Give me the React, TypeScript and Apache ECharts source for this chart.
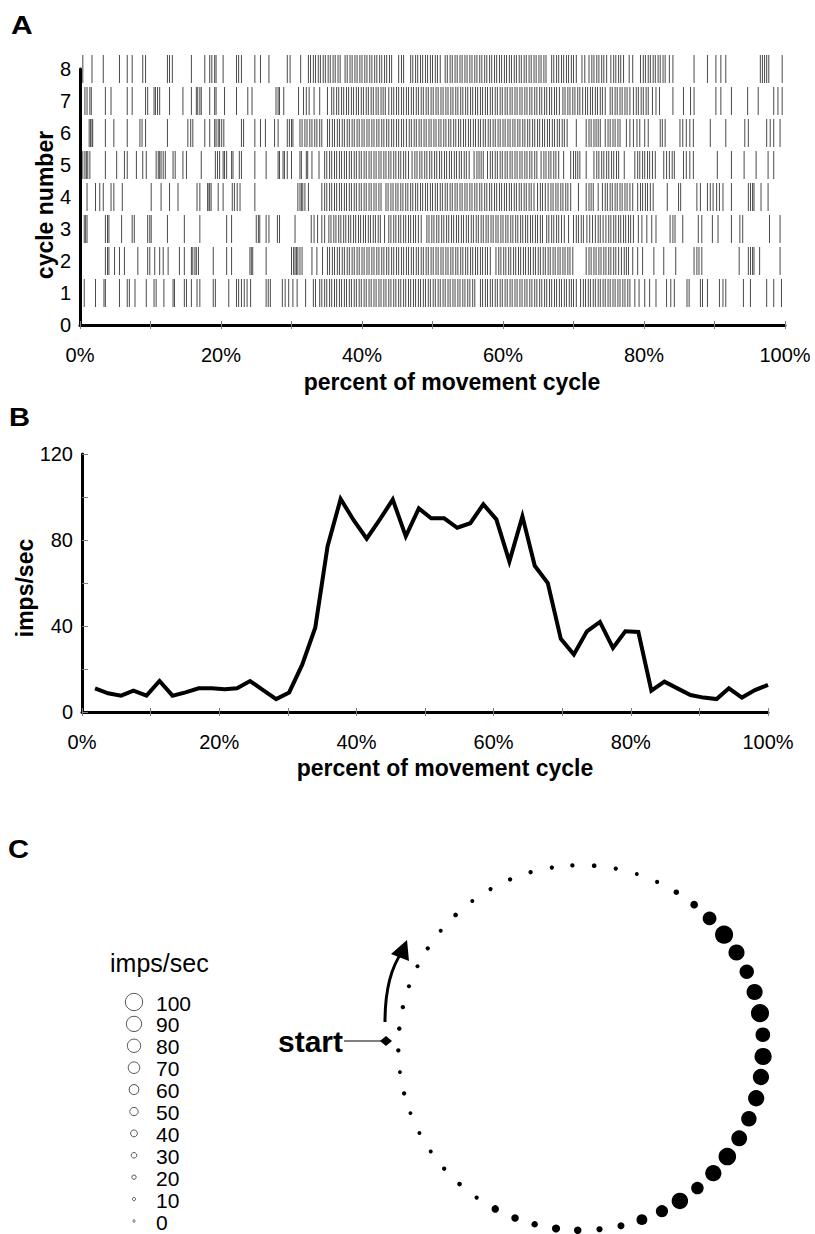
import { useEffect, useRef } from "react";
import * as echarts from "echarts";

// Phase of each firing-rate bin (percent of movement cycle)
const phase = [
  1.9, 3.8, 5.7, 7.5, 9.4, 11.3, 13.2, 15.1, 17.0, 18.9, 20.8, 22.6, 24.5, 26.4, 28.3, 30.2, 32.1, 34.0,
  35.8, 37.7, 39.6, 41.5, 43.4, 45.3, 47.2, 49.1, 50.9, 52.8, 54.7, 56.6, 58.5, 60.4, 62.3, 64.2, 66.0,
  67.9, 69.8, 71.7, 73.6, 75.5, 77.4, 79.2, 81.1, 83.0, 84.9, 86.8, 88.7, 90.6, 92.5, 94.3, 96.2, 98.1, 100.0,
];

// Mean firing rate in each bin (imps/sec)
const rate = [
  11.0, 8.7, 7.6, 9.9, 7.6, 14.4, 7.6, 9.1, 11.0, 11.0, 10.6, 11.0, 14.4, 10.2, 6.0, 9.1, 22.0, 39.2,
  77.1, 99.1, 89.2, 80.6, 89.5, 98.8, 81.7, 94.7, 90.1, 90.1, 85.7, 87.8, 96.6, 89.6, 70.0, 91.0, 68.0,
  60.0, 34.0, 26.7, 37.5, 41.9, 29.8, 37.5, 37.2, 9.9, 14.1, 11.0, 7.9, 6.7, 6.0, 11.0, 6.7, 10.2, 12.6,
];

// Spike times (percent of cycle) for each of the eight cycles
const cycle1 = [
  0.6, 2.2, 3.4, 3.6, 5.6, 6.7, 7.0, 7.8, 9.4, 10.5, 10.8, 11.9, 13.2, 13.4, 14.8, 15.1, 15.8, 16.6, 17.0,
  18.9, 19.2, 21.1, 22.2, 22.5, 22.9, 23.3, 23.7, 24.2, 26.4, 26.7, 27.0, 28.7, 29.1, 29.6, 30.2, 30.8,
  32.0, 33.1, 33.4,
  34.0, 34.3, 34.7, 35.0, 35.4, 35.7, 36.1, 36.4, 36.8, 37.1, 37.5, 37.8, 38.2, 38.5, 38.9, 39.2, 39.6,
  39.9, 40.3, 40.6, 41.0, 41.3, 41.7, 42.0, 42.4, 42.7, 43.1, 43.4, 43.8, 44.1, 44.5, 44.8, 45.2, 45.5,
  45.9, 46.2, 46.6, 46.9, 47.3, 47.6, 48.0, 48.3, 48.7, 49.0, 49.4, 49.7, 50.1, 50.4, 50.8, 51.1, 51.5,
  51.8, 52.2, 52.5, 52.9, 53.2, 53.6, 53.9, 54.3, 54.6, 55.0, 55.3, 55.7, 56.0,
  56.8, 57.1, 57.5, 57.8, 58.2, 58.5, 58.9, 59.2, 59.6, 59.9, 60.3, 60.6, 61.0, 61.3, 61.7, 62.0, 62.4,
  62.7, 63.1, 63.4, 63.8, 64.1, 64.5, 64.8, 65.2, 65.5, 65.9, 66.2, 66.6, 66.9, 67.3, 67.6, 68.0, 68.3,
  68.7, 69.0, 69.4, 69.7, 70.0, 70.4,
  71.0, 71.4, 71.7, 72.1, 72.4, 72.8, 73.1, 73.5, 73.8, 74.2, 74.5, 74.9, 75.2, 75.6, 75.9, 76.3, 76.6,
  77.0, 77.3, 77.7, 78.0,
  78.7, 79.3, 80.1, 80.8, 81.7, 83.2, 83.8, 84.3, 86.1, 86.4, 88.0, 88.3, 89.0, 90.7, 91.2, 91.6, 94.1,
  95.1, 97.4, 98.4, 99.5,
];
const cycle2 = [
  3.6, 3.9, 4.1, 4.9, 5.6, 6.3, 8.2, 9.6, 9.9, 10.6, 11.3, 11.8, 12.5, 14.1, 14.8, 15.8, 16.0, 16.3, 16.5,
  16.8, 18.9, 20.8, 21.5, 24.1, 24.3, 24.5, 26.4, 30.0, 30.3, 30.5, 30.7, 30.9, 31.2, 31.5, 32.9, 33.6, 34.4,
  35.1, 35.4, 35.8, 36.1, 36.5, 36.8, 37.2, 37.5, 37.9, 38.2, 38.6, 38.9, 39.3, 39.6, 40.0, 40.3, 40.7,
  41.0, 41.4, 41.7, 42.1, 42.4, 42.8, 43.1, 43.5, 43.8, 44.2, 44.5, 44.9, 45.2, 45.6, 45.9, 46.3, 46.6,
  47.0, 47.3, 47.7, 48.0, 48.4, 48.7, 49.1, 49.4, 49.8, 50.1, 50.5, 50.8, 51.2, 51.5, 51.9, 52.2, 52.6,
  52.9, 53.3, 53.6, 54.0, 54.3, 54.7, 55.0, 55.4, 55.7, 56.1, 56.4, 56.8, 57.1, 57.5, 57.8, 58.2,
  59.0, 59.4, 59.7, 60.1, 60.4, 60.8, 61.1, 61.5, 61.8, 62.2, 62.5, 62.9, 63.2, 63.6, 63.9, 64.3, 64.6,
  65.0, 65.3, 65.7, 66.0, 66.4, 66.7, 67.1, 67.4, 67.8, 68.1, 68.5, 68.8, 69.2, 69.5, 69.9,
  71.8, 72.2, 72.5, 72.9, 73.2, 73.6, 73.9, 74.3, 74.6, 75.0, 75.3, 75.7, 76.0, 76.4,
  76.8, 77.2, 77.5, 77.8, 78.4, 79.1, 79.8, 81.4, 82.8, 84.5, 87.1, 87.5, 87.8, 88.2, 93.5, 94.8, 95.1,
  95.4, 95.6, 96.4, 99.3,
];
const cycle3 = [
  0.6, 0.8, 1.0, 3.6, 3.9, 4.1, 5.9, 7.4, 7.7, 9.6, 9.9, 10.1, 12.4, 14.8, 17.0, 20.8, 21.5, 25.0, 25.3,
  25.5, 26.4, 26.8, 28.0, 28.3, 30.5, 32.8, 33.2, 33.7, 34.3, 34.7,
  35.3, 35.6, 36.0, 36.3, 36.7, 37.0, 37.4, 37.7, 38.1, 38.4, 38.8, 39.1, 39.5, 39.8, 40.2, 40.5, 40.9,
  41.2, 41.6, 41.9, 42.3, 42.6, 43.2,
  43.8, 44.1, 44.5, 44.8, 45.2, 45.5, 45.9, 46.2, 46.6, 46.9, 47.3, 47.6, 48.0, 48.4,
  49.2, 49.5, 49.9, 50.2, 50.6, 50.9, 51.3, 51.6, 52.0, 52.3, 52.7, 53.0, 53.4, 53.7, 54.1, 54.4, 54.8,
  55.1, 55.5, 55.8, 56.2, 56.5, 56.9, 57.2, 57.6, 57.9, 58.3, 58.6, 59.0, 59.3, 59.7, 60.0, 60.4, 60.7,
  61.1, 61.4, 61.8, 62.1, 62.5, 62.8, 63.2, 63.5, 63.9, 64.2, 64.6, 64.9, 65.3, 65.6, 66.2, 66.5, 66.9,
  67.2, 67.6, 67.9, 68.3, 68.7, 69.3,
  70.0, 70.4, 70.7, 71.1, 71.4, 71.9, 72.3, 72.7, 73.1, 73.5, 73.8, 74.2,
  74.6, 75.0, 75.3, 75.7, 76.0, 76.4, 76.7, 77.1, 77.4, 77.8, 78.1, 78.5,
  79.2, 79.7, 80.4, 81.1, 81.7, 83.7, 84.1, 84.4, 85.5, 87.7, 88.2, 89.7, 90.5, 92.4, 93.6, 94.0, 97.8, 99.3,
];
const cycle4 = [
  1.0, 2.2, 2.8, 3.3, 4.4, 4.8, 6.0, 10.1, 11.5, 12.7, 13.9, 16.6, 17.0, 18.1, 18.3, 18.4, 18.6, 19.6,
  20.3, 21.6, 21.9, 22.3, 22.7, 24.8, 30.9, 31.2, 31.4, 31.6, 31.9, 32.4,
  34.3, 34.7, 35.0, 35.4, 35.7, 36.1, 36.4, 36.8, 37.1, 37.5, 37.8, 38.2, 38.5, 38.9, 39.2, 39.6, 39.9,
  40.3, 40.6, 41.0, 41.3, 41.7, 42.0, 42.4, 42.7,
  43.4, 43.7, 44.1, 44.4, 44.8, 45.1, 45.5, 45.8, 46.2, 46.5, 46.9, 47.2, 47.6, 47.9, 48.3, 48.6, 49.0,
  49.3, 49.7, 50.0, 50.4, 50.7, 51.1, 51.4, 51.8, 52.1, 52.5, 52.8, 53.2, 53.5, 53.9, 54.2, 54.6, 54.9,
  55.3, 55.6, 56.0, 56.3, 56.7, 57.0, 57.4, 57.7, 58.1, 58.4, 58.8, 59.1, 59.5, 59.8, 60.2, 60.5, 60.9,
  61.2, 61.6, 61.9, 62.3, 62.6, 63.0, 63.3, 63.7, 64.0, 64.4,
  64.9, 65.3, 65.6, 66.0, 66.4, 66.8, 67.1, 67.5, 67.8, 68.2, 68.5, 68.9, 69.2, 69.6, 70.7,
  71.8, 72.2, 72.5, 72.8, 73.5,
  74.1, 74.5, 74.8, 75.2, 75.5, 75.9, 76.2, 76.6, 76.9, 77.3, 77.6, 78.0, 78.4,
  79.1, 79.5, 79.8, 80.2, 80.5, 80.9, 81.3,
  83.3, 84.9, 85.2, 87.5, 88.0, 89.0, 89.4, 89.8, 90.3, 90.7, 91.2, 92.4, 94.8, 95.1, 95.4, 95.6, 96.6, 97.6,
];
const cycle5 = [
  0.4, 0.7, 0.9, 1.1, 1.4, 3.6, 5.2, 6.3, 6.7, 8.0, 8.9, 9.4, 10.8, 11.1, 11.3, 11.5, 11.8, 12.1, 13.2,
  13.5, 14.6, 15.1, 17.2, 19.2, 19.5, 19.8, 20.3, 20.5, 20.8, 21.5, 21.7, 22.6, 22.9, 24.8, 26.4, 28.1,
  28.3, 28.8, 29.0, 29.4, 30.0, 31.2, 31.4, 32.1, 32.3, 32.9, 33.9,
  34.7, 35.0, 35.4, 35.7, 36.1, 36.4, 36.8, 37.1, 37.5, 37.8, 38.2, 38.5, 38.9, 39.2, 39.6, 39.9, 40.3,
  40.6, 41.0, 41.3, 41.7, 42.0, 42.4, 42.7, 43.1, 43.4, 43.8, 44.1, 44.5, 44.8, 45.2, 45.5, 45.9, 46.2, 46.6,
  47.1, 47.5, 47.8, 48.2, 48.5, 48.9, 49.2, 49.6, 49.9, 50.3, 50.6, 51.0, 51.3, 51.7, 52.0, 52.4, 52.7,
  53.1, 53.4, 53.8, 54.1, 54.5, 54.8, 55.2,
  55.9, 56.3, 56.6, 56.9, 57.2,
  57.8, 58.2, 58.5, 58.9, 59.2, 59.6, 59.9, 60.3, 60.6, 61.0, 61.3, 61.7, 62.0, 62.4, 62.7, 63.1, 63.4,
  63.8, 64.1, 64.5, 64.8,
  65.4, 65.8, 66.1, 66.5, 66.8, 67.2, 67.5, 67.9, 68.6, 69.6, 70.0, 70.3, 70.6, 70.9, 71.8,
  72.9, 73.3, 73.6, 74.0, 74.3, 74.7, 75.0, 75.4, 75.7, 76.1, 76.4, 77.2,
  78.7, 79.1, 79.4, 79.8, 80.1, 80.5, 80.8, 81.2, 81.6, 82.8, 83.2, 83.6, 84.0, 84.3,
  85.6, 86.0, 86.5, 87.0, 90.4, 92.4, 94.2, 95.9, 97.6, 98.4,
];
const cycle6 = [
  1.3, 1.5, 1.7, 1.8, 3.6, 4.8, 6.7, 8.5, 8.8, 9.3, 12.4, 15.3, 15.7, 16.0, 17.7, 18.4, 19.1, 19.3, 19.6,
  19.8, 20.1, 20.4, 22.9, 23.2, 24.8, 25.6, 26.3, 27.6, 28.1, 29.4, 29.7, 30.0, 30.2,
  31.2, 31.5, 31.9, 32.2, 32.6, 32.9, 33.3, 33.6, 34.0, 34.3,
  35.1, 35.4, 35.8, 36.1, 36.5, 36.8, 37.2, 37.5, 37.9, 38.2, 38.6, 38.9, 39.3, 39.6, 40.0, 40.3, 40.7,
  41.0, 41.4, 41.7, 42.1, 42.4, 42.8, 43.1, 43.5, 43.8, 44.2, 44.5, 44.9, 45.2, 45.6, 45.9,
  46.3, 46.7, 47.0, 47.4, 47.7, 48.1, 48.4, 48.8, 49.1, 49.5, 49.8, 50.2, 50.5, 50.9, 51.2, 51.6, 51.9,
  52.3, 52.6, 53.0, 53.3, 53.7, 54.0, 54.4, 54.7, 55.1, 55.4, 55.8, 56.1, 56.5, 56.8, 57.2, 57.5, 57.9,
  58.2, 58.6, 58.9, 59.3, 59.6, 60.0, 60.3, 60.7, 61.0, 61.4, 61.7, 62.1, 62.4, 62.8, 63.1, 63.5, 63.8,
  64.2, 64.5, 64.9, 65.2, 65.6, 65.9, 66.3, 66.6, 67.0, 67.3, 67.7, 68.0, 68.4, 68.7, 69.1,
  70.4, 71.8, 72.2, 72.5, 72.9, 73.2, 73.5, 73.8,
  74.5, 74.9, 75.2, 75.6, 75.9, 76.3, 76.6,
  77.5, 78.0, 78.5, 79.0, 79.4, 80.1, 80.6, 82.3, 82.6, 83.0, 85.1, 85.5, 86.0, 86.5, 87.0, 89.4, 91.6,
  94.3, 94.8, 97.4, 97.9, 98.4, 99.3,
];
const cycle7 = [
  0.7, 1.0, 1.4, 1.6, 3.6, 4.4, 6.7, 7.4, 9.3, 9.6, 10.5, 10.7, 11.0, 11.3, 12.7, 14.6, 15.8, 16.5, 16.7,
  17.0, 17.2, 18.4, 19.1, 19.3, 20.5, 22.2, 23.8, 24.4, 27.8, 28.1, 28.3, 28.9, 31.0, 31.7, 32.1, 32.5,
  33.2, 34.0, 35.1,
  35.7, 36.0, 36.4, 36.7, 37.1, 37.4, 37.8, 38.1, 38.5, 38.8, 39.2, 39.5, 39.9, 40.2, 40.6, 40.9, 41.3,
  41.6, 42.0, 42.3, 42.7, 43.0, 43.3,
  43.8, 44.2, 44.5, 44.9, 45.2, 45.6, 45.9, 46.3, 46.6, 47.0, 47.3, 47.7, 48.0, 48.4, 48.7, 49.1, 49.4,
  49.8, 50.1, 50.5, 50.8, 51.2, 51.5, 51.9, 52.2, 52.6, 52.9, 53.3, 53.6, 54.0, 54.3, 54.7, 55.0, 55.4,
  55.7, 56.1, 56.4, 56.8, 57.1, 57.5, 57.8, 58.2, 58.5, 58.9, 59.2, 59.6, 59.9, 60.3, 60.6, 61.0, 61.3,
  61.7, 62.0, 62.4, 62.7, 63.1, 63.4, 63.8, 64.1, 64.5, 64.8, 65.2, 65.5, 65.9, 66.2, 66.6, 66.9, 67.3,
  67.6, 68.0,
  68.5, 68.8, 69.2, 69.5, 69.9, 70.2, 70.6, 70.9, 71.3,
  71.7, 72.0, 72.4, 72.7, 73.1, 73.4, 73.8, 74.1, 74.5,
  75.2, 75.5, 75.9, 76.2, 76.6, 76.9, 77.3, 77.6, 78.0,
  78.5, 78.9, 79.2, 79.6, 79.9, 80.3, 80.6,
  81.2, 81.7, 82.2, 84.1, 85.6, 86.6, 87.1, 90.2, 90.9, 92.4, 94.7, 96.2, 98.4, 99.0, 99.6,
];
const cycle8 = [
  0.4, 1.7, 3.3, 5.6, 6.7, 7.4, 8.9, 9.3, 12.4, 12.7, 13.1, 15.8, 17.7, 18.4, 18.7, 19.1, 19.3, 20.3,
  22.2, 22.5, 22.9, 24.8, 25.6, 26.8, 29.4, 29.8, 31.3,
  32.4, 32.7, 33.1, 33.4, 33.8, 34.1, 34.5, 34.8, 35.2, 35.5, 35.9, 36.2, 36.6, 36.9,
  37.6, 37.9, 38.3, 38.6, 39.0, 39.3, 39.7, 40.0, 40.4, 40.7, 41.1, 41.4, 41.8, 42.1, 42.5, 42.8, 43.2,
  43.5, 43.9, 44.2,
  45.2, 45.6, 45.9,
  46.9, 47.2, 47.6, 47.9, 48.3, 48.6, 49.0, 49.3, 49.7, 50.0, 50.4, 50.7, 51.1,
  51.8, 52.1, 52.5, 52.8, 53.2, 53.5, 53.9, 54.2, 54.6, 54.9, 55.3, 55.6, 56.0, 56.3, 56.7, 57.0, 57.4,
  57.7, 58.1, 58.4, 58.8, 59.1, 59.5, 59.8, 60.2, 60.5, 60.9, 61.2, 61.6, 61.9, 62.3, 62.6, 63.0, 63.3,
  63.7, 64.0, 64.4, 64.7, 65.1, 65.4, 65.8, 66.1,
  66.9, 67.2, 67.6, 67.9, 68.3, 68.6, 69.0, 69.3, 69.7, 70.0, 70.4,
  71.2, 71.6, 72.2, 72.6, 72.9, 73.3, 73.6, 74.0, 74.3, 74.7,
  75.3, 75.7, 76.0, 76.4, 76.7, 77.1, 77.9, 78.4,
  79.5, 79.9, 80.2, 80.6, 80.9, 81.3, 81.6, 82.0, 82.3, 82.7, 83.0,
  83.6, 84.1, 87.1, 89.0, 90.2, 90.9, 91.6, 96.5, 96.8, 97.1, 97.4, 97.7, 99.6,
];
const cycles = [cycle1, cycle2, cycle3, cycle4, cycle5, cycle6, cycle7, cycle8];

// Rates shown in the dot-size key
const keyRates = [100, 90, 80, 70, 60, 50, 40, 30, 20, 10, 0];

const FONT = '"Liberation Sans", Arial, Helvetica, sans-serif';

// Dot diameter (px) for a firing rate
const dotSize = (r: number) => 2.3 + 0.09 * r + 0.0006 * r * r;

const pctLabel = (v: number) => (v % 20 === 0 ? `${v}%` : "");

const txt = (
  text: string,
  x: number,
  y: number,
  font: string,
  align = "left",
  rotation = 0,
  scaleX = 1
) => ({
  type: "text",
  x,
  y,
  rotation,
  scaleX,
  silent: true,
  style: {
    text,
    x: 0,
    y: 0,
    font,
    fill: "#000",
    align,
    verticalAlign: "middle",
    textAlign: align,
    textVerticalAlign: "middle",
  },
});

export default function App() {
  const ref = useRef<HTMLDivElement>(null);

  useEffect(() => {
    if (!ref.current) return;
    const chart = echarts.init(ref.current, undefined, { renderer: "svg" });

    const spikes: number[][] = [];
    cycles.forEach((times, i) => times.forEach((t) => spikes.push([t, i + 1])));

    const axisFont = { fontSize: 20, color: "#000", fontFamily: FONT };
    const thickLine = { show: true, lineStyle: { color: "#000", width: 3 } };
    const greyTick = { color: "#808080", width: 1 };

    const pctAxis = (gridIndex: number) => [
      {
        gridIndex,
        type: "value",
        position: "bottom",
        min: 0,
        max: 100,
        interval: 10,
        axisLine: thickLine,
        axisTick: { show: true, length: 4, lineStyle: greyTick },
        axisLabel: { ...axisFont, margin: 20, formatter: pctLabel },
        splitLine: { show: false },
      },
      {
        gridIndex,
        type: "value",
        position: "bottom",
        offset: 0,
        min: 0,
        max: 100,
        interval: 10,
        axisLine: { show: false },
        axisTick: { show: true, inside: true, length: 4, lineStyle: greyTick },
        axisLabel: { show: false },
        splitLine: { show: false },
      },
    ];

    const option = {
      animation: false,
      backgroundColor: "#ffffff",
      grid: [
        { left: 80, right: 30, top: 69, bottom: 909 },
        { left: 82, right: 47, top: 454, bottom: 522 },
        { left: 134, width: 100, top: 1002, bottom: 13 },
      ],
      xAxis: [
        ...pctAxis(0),
        ...pctAxis(1),
        { gridIndex: 2, type: "value", min: 0, max: 1, show: false },
      ],
      yAxis: [
        {
          gridIndex: 0,
          type: "value",
          min: 0,
          max: 8,
          interval: 1,
          axisLine: thickLine,
          axisTick: { show: false },
          axisLabel: { ...axisFont, margin: 9 },
          splitLine: { show: false },
        },
        {
          gridIndex: 1,
          type: "value",
          min: 0,
          max: 120,
          interval: 20,
          axisLine: thickLine,
          axisTick: { show: true, inside: true, length: 6, lineStyle: greyTick },
          axisLabel: {
            ...axisFont,
            margin: 9,
            formatter: (v: number) => (v % 40 === 0 ? `${v}` : ""),
          },
          splitLine: { show: false },
        },
        { gridIndex: 2, type: "value", min: 0, max: 100, show: false },
      ],
      polar: { center: [580.8, 1047.7], radius: 182.5 },
      angleAxis: {
        type: "value",
        min: 0,
        max: 100,
        startAngle: 174,
        clockwise: true,
        show: false,
        axisLine: { show: false },
        axisTick: { show: false },
        axisLabel: { show: false },
        splitLine: { show: false },
      },
      radiusAxis: {
        type: "value",
        min: 0,
        max: 1,
        show: false,
        axisLine: { show: false },
        axisTick: { show: false },
        axisLabel: { show: false },
        splitLine: { show: false },
      },
      series: [
        {
          name: "spikes",
          type: "scatter",
          xAxisIndex: 0,
          yAxisIndex: 0,
          symbol: "rect",
          symbolSize: [1, 28],
          itemStyle: { color: "#4a4a4a", opacity: 1 },
          silent: true,
          data: spikes,
        },
        {
          name: "rate",
          type: "line",
          xAxisIndex: 2,
          yAxisIndex: 1,
          symbol: "none",
          lineStyle: { color: "#000", width: 4, join: "miter" },
          silent: true,
          data: phase.map((p, i) => [p, rate[i]]),
        },
        {
          name: "key",
          type: "scatter",
          xAxisIndex: 4,
          yAxisIndex: 2,
          symbol: "circle",
          symbolSize: (v: number[]) => dotSize(v[1]),
          itemStyle: { color: "#ffffff", borderColor: "#555", borderWidth: 1, opacity: 1 },
          label: {
            show: true,
            position: "inside",
            align: "left",
            verticalAlign: "middle",
            offset: [22, 1],
            formatter: (p: any) => `${p.value[1]}`,
            fontSize: 21,
            lineHeight: 20,
            color: "#000",
            textBorderWidth: 0,
            fontFamily: FONT,
          },
          silent: true,
          data: keyRates.map((r) => [0, r]),
        },
        {
          name: "ring",
          type: "scatter",
          coordinateSystem: "polar",
          symbol: "circle",
          symbolSize: (v: number[]) => dotSize(v[2]) + 1,
          itemStyle: { color: "#000", opacity: 1 },
          silent: true,
          data: phase.map((p, i) => [1, p, rate[i]]),
        },
      ],
      graphic: [
        txt("A", 11, 25, `bold 25px ${FONT}`, "left", 0, 1.2),
        txt("B", 9, 417, `bold 26px ${FONT}`, "left", 0, 1.12),
        txt("C", 8, 849, `bold 26px ${FONT}`, "left", 0, 1.12),
        txt("cycle number", 45, 205, `bold 23px ${FONT}`, "center", Math.PI / 2),
        txt("percent of movement cycle", 452, 382, `bold 23px ${FONT}`, "center"),
        txt("imps/sec", 25, 588, `bold 23px ${FONT}`, "center", Math.PI / 2),
        txt("percent of movement cycle", 445, 768, `bold 23px ${FONT}`, "center"),
        txt("imps/sec", 110, 963, `25px ${FONT}`),
        txt("start", 343, 1041, `bold 30px ${FONT}`, "right"),
        {
          type: "line",
          silent: true,
          shape: { x1: 344, y1: 1041, x2: 382, y2: 1041 },
          style: { stroke: "#808080", lineWidth: 2 },
        },
        {
          type: "polygon",
          silent: true,
          shape: { points: [[380, 1041], [386, 1036], [392, 1041], [386, 1046]] },
          style: { fill: "#000" },
        },
        {
          type: "bezierCurve",
          silent: true,
          shape: { x1: 385, y1: 1022, cpx1: 385, cpy1: 976, x2: 402, y2: 952 },
          style: { stroke: "#000", lineWidth: 3, fill: "none" },
        },
        {
          type: "polygon",
          silent: true,
          shape: { points: [[407, 940], [391, 954], [409, 961]] },
          style: { fill: "#000" },
        },
      ],
    };

    chart.setOption(option as any);
    return () => chart.dispose();
  }, []);

  return (
    <div
      ref={ref}
      style={{ position: "absolute", left: 0, top: 0, width: 815, height: 1234, background: "#fff" }}
    />
  );
}
